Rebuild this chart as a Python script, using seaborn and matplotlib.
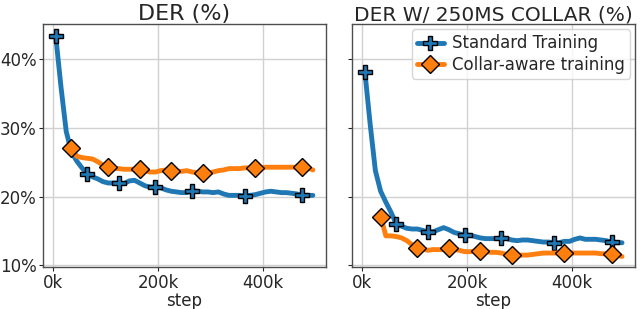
import matplotlib
matplotlib.use("Agg")
import matplotlib.pyplot as plt
from matplotlib.ticker import FuncFormatter
import seaborn as sns
import pandas as pd

# ── Data (step in thousands, DER in %) ────────────────────────────────────────
steps = [5, 15, 25, 35, 45, 55, 65, 75, 85, 95,
         105, 115, 125, 135, 145, 155, 165, 175, 185, 195,
         205, 215, 225, 235, 245, 255, 265, 275, 285, 295,
         305, 315, 325, 335, 345, 355, 365, 375, 385, 395,
         405, 415, 425, 435, 445, 455, 465, 475, 485, 495]
collar_steps = steps[3:]

der_standard = [43.4, 36.0, 29.5, 26.5, 25.2, 24.2, 23.3, 22.9, 22.6, 22.2,
                22.0, 22.0, 22.0, 21.9, 22.3, 22.4, 22.0, 21.6, 21.4, 21.4,
                21.3, 21.0, 20.8, 20.7, 20.6, 20.6, 20.9, 20.8, 20.7, 20.7,
                20.6, 20.7, 20.4, 20.2, 20.2, 20.2, 20.1, 20.2, 20.3, 20.5,
                20.7, 20.8, 20.7, 20.6, 20.6, 20.5, 20.4, 20.2, 20.2, 20.2]
der_collar_aware = [27.1, 25.9, 25.7, 25.6, 25.5, 25.1, 24.6,
                    24.3, 24.1, 24.1, 24.0, 24.0, 24.0, 24.1, 23.8, 23.6, 23.6,
                    23.8, 23.9, 23.8, 23.7, 23.7, 23.8, 23.6, 23.5, 23.5, 23.5,
                    23.6, 23.8, 23.9, 24.1, 24.1, 24.1, 24.2, 24.2, 24.2, 24.2,
                    24.3, 24.3, 24.3, 24.3, 24.3, 24.3, 24.3, 24.3, 24.2, 23.9]

der250_standard = [38.2, 30.6, 23.8, 20.8, 19.2, 17.7, 16.0, 15.7, 15.4, 15.3,
                   15.3, 15.1, 14.9, 14.9, 15.2, 15.5, 15.2, 14.8, 14.6, 14.4,
                   14.4, 14.2, 14.0, 13.9, 13.9, 13.9, 14.0, 13.9, 13.7, 13.6,
                   13.7, 13.7, 13.6, 13.5, 13.4, 13.4, 13.3, 13.3, 13.5, 13.5,
                   13.8, 14.0, 13.8, 13.8, 13.8, 13.7, 13.6, 13.4, 13.3, 13.3]
der250_collar_aware = [17.1, 14.3, 14.3, 14.2, 14.0, 13.6, 13.0,
                       12.6, 12.4, 12.2, 12.3, 12.3, 12.3, 12.5, 12.3, 12.2, 12.0,
                       12.0, 12.1, 12.1, 12.0, 11.9, 11.9, 11.8, 11.6, 11.5, 11.5,
                       11.5, 11.5, 11.6, 11.7, 11.8, 11.8, 11.8, 11.8, 11.8, 11.8,
                       11.8, 11.8, 11.8, 11.8, 11.8, 11.7, 11.7, 11.6, 11.5, 11.3]

marks_standard = [0, 6, 12, 19, 26, 36, 47]
marks_collar = [0, 7, 13, 19, 25, 35, 44]

titles = ["DER (%)", "DER W/ 250MS COLLAR (%)"]
title_sizes = [16, 14.5]
labels = ["Standard Training", "Collar-aware training"]

# ── Style ─────────────────────────────────────────────────────────────────────
sns.set_style("whitegrid", {
    "axes.edgecolor": ".3",
    "grid.color": ".82",
    "xtick.bottom": True,
    "ytick.left": True,
    "xtick.color": ".15",
    "ytick.color": ".15",
})
plt.rcParams.update({
    "font.family": ["DejaVu Sans"],
    "font.size": 12,
    "xtick.labelsize": 12,
    "ytick.labelsize": 12,
    "xtick.major.size": 3,
    "ytick.major.size": 3,
    "xtick.major.pad": 2,
    "ytick.major.pad": 1.5,
    "xtick.major.width": 0.8,
    "ytick.major.width": 0.8,
    "axes.linewidth": 1.0,
    "grid.linewidth": 1.0,
})

blue, orange = "#1f77b4", "#ff7f0e"

fig, axes = plt.subplots(1, 2, figsize=(6.4, 3.09), dpi=100, sharey=True)
fig.subplots_adjust(left=0.067, right=0.992, bottom=0.136, top=0.921, wspace=0.093)

panels = [
    (der_standard, der_collar_aware),
    (der250_standard, der250_collar_aware),
]

for ax, (std_vals, col_vals), title, tsize in zip(axes, panels, titles, title_sizes):
    df_std = pd.DataFrame({"step": [s * 1000 for s in steps], "der": std_vals})
    df_col = pd.DataFrame({"step": [s * 1000 for s in collar_steps], "der": col_vals})
    sns.lineplot(data=df_std, x="step", y="der", ax=ax, color=blue, lw=3.5,
                 marker="P", markersize=10, markeredgecolor="black",
                 markeredgewidth=1, markevery=marks_standard, label=labels[0])
    sns.lineplot(data=df_col, x="step", y="der", ax=ax, color=orange, lw=3.5,
                 marker="D", markersize=9.5, markeredgecolor="black",
                 markeredgewidth=1, markevery=marks_collar, label=labels[1])
    ax.set_title(title, fontsize=tsize, pad=3)
    ax.set_xlabel("step", fontsize=12, labelpad=0)
    ax.set_ylabel("")
    ax.set_xticks([0, 200000, 400000])
    ax.xaxis.set_major_formatter(FuncFormatter(lambda v, p: f"{v / 1000:.0f}k"))

axes[0].set_ylim(9.77, 45.1)
axes[0].set_yticks([10, 20, 30, 40])
axes[0].yaxis.set_major_formatter(FuncFormatter(lambda v, p: f"{v:.0f}%"))

axes[0].get_legend().remove()
axes[1].legend(loc="upper right", fontsize=12, frameon=True, borderaxespad=0.3,
               handlelength=1.6, handletextpad=0.5, borderpad=0.3, labelspacing=0.2)

plt.savefig("out.png", dpi=100)
plt.close()
